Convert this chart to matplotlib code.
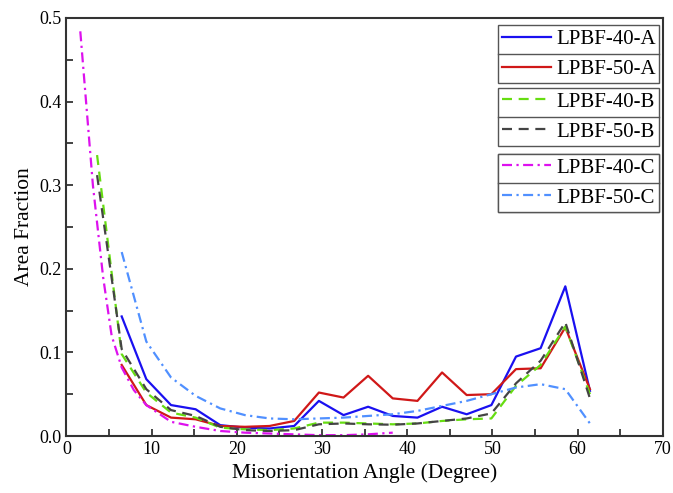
import matplotlib
matplotlib.use("Agg")
import matplotlib.pyplot as plt
from matplotlib.lines import Line2D

plt.rcParams['font.family'] = ['Liberation Serif', 'DejaVu Serif']

# bin centres (degrees)
x_a = [6.48, 9.37, 12.27, 15.16, 18.05, 20.95, 23.84, 26.73, 29.63, 32.52,
       35.41, 38.30, 41.20, 44.09, 46.98, 49.88, 52.77, 55.66, 58.56, 61.45]
x_b = [3.59] + x_a
x_c40 = [1.62, 3.1, 4.3, 5.3, 6.48, 7.9, 9.37, 12.27, 15.16, 18.05, 20.95,
         23.84, 26.73, 29.63, 32.52, 35.41, 38.30]

lpbf40_a = [0.143, 0.068, 0.037, 0.032, 0.013, 0.010, 0.009, 0.012, 0.042, 0.025,
            0.035, 0.024, 0.022, 0.035, 0.026, 0.037, 0.095, 0.105, 0.179, 0.054]
lpbf50_a = [0.085, 0.037, 0.022, 0.020, 0.012, 0.011, 0.012, 0.018, 0.052, 0.046,
            0.072, 0.045, 0.042, 0.076, 0.049, 0.050, 0.080, 0.081, 0.130, 0.056]
lpbf40_b = [0.336, 0.098, 0.052, 0.028, 0.022, 0.010, 0.008, 0.007, 0.009, 0.016, 0.016,
            0.015, 0.014, 0.015, 0.018, 0.020, 0.021, 0.060, 0.085, 0.131, 0.050]
lpbf50_b = [0.312, 0.104, 0.056, 0.031, 0.024, 0.011, 0.007, 0.006, 0.007, 0.014, 0.015,
            0.014, 0.0135, 0.015, 0.018, 0.021, 0.027, 0.063, 0.090, 0.136, 0.045]
lpbf40_c = [0.484, 0.30, 0.19, 0.12, 0.082, 0.055, 0.037, 0.017, 0.011, 0.006, 0.004,
            0.003, 0.002, 0.001, 0.001, 0.002, 0.004]
lpbf50_c = [0.220, 0.113, 0.070, 0.048, 0.033, 0.025, 0.021, 0.020, 0.021, 0.022,
            0.024, 0.026, 0.030, 0.036, 0.042, 0.050, 0.058, 0.062, 0.056, 0.015]

fig = plt.figure(figsize=(6.73, 4.93), dpi=100)
ax = fig.add_axes([0.0988, 0.1156, 0.886, 0.848])

lw = 1.6
l1, = ax.plot(x_a, lpbf40_a, color='#1a10f0', lw=lw, label='LPBF-40-A')
l2, = ax.plot(x_a, lpbf50_a, color='#d01818', lw=lw, label='LPBF-50-A')
l3, = ax.plot(x_b, lpbf40_b, color='#66dd11', lw=lw, dashes=(4.5, 3), label='LPBF-40-B')
l4, = ax.plot(x_b, lpbf50_b, color='#444444', lw=lw, dashes=(4.5, 3), label='LPBF-50-B')
l5, = ax.plot(x_c40, lpbf40_c, color='#dd11ee', lw=lw, dashes=(4.5, 2, 1, 2), label='LPBF-40-C')
l6, = ax.plot(x_a, lpbf50_c, color='#5090ff', lw=lw, dashes=(4.5, 2, 1, 2), label='LPBF-50-C')

ax.set_xlim(0, 70)
ax.set_ylim(0, 0.5)
ax.set_xticks(range(0, 71, 10))
ax.set_xticks(range(5, 70, 10), minor=True)
ax.set_yticks([0, 0.1, 0.2, 0.3, 0.4, 0.5])
ax.set_yticks([0.05, 0.15, 0.25, 0.35, 0.45], minor=True)
ax.set_yticklabels(['0.0', '0.1', '0.2', '0.3', '0.4', '0.5'])
ax.tick_params(which='both', direction='in', length=5, width=1.2, labelsize=13,
               top=False, right=False, color='#222222')
for s in ax.spines.values():
    s.set_linewidth(1.5)
    s.set_color('#333333')

ax.set_xlabel('Misorientation Angle (Degree)', fontsize=15.5)
ax.set_ylabel('Area Fraction', fontsize=15.5)

groups = [([l1, l2], 0.845, 0.138), ([l3, l4], 0.689, 0.144), ([l5, l6], 0.533, 0.142)]
legs = []
for handles, y0, h in groups:
    leg = ax.legend(handles=handles, bbox_to_anchor=(0.723, y0, 0.27, h),
                    loc='upper left', mode='expand', fontsize=15, frameon=True,
                    fancybox=False, edgecolor='#555555', framealpha=1,
                    borderpad=0.2, labelspacing=0.5, handlelength=2.35,
                    handletextpad=0.25, borderaxespad=0)
    leg.get_frame().set_linewidth(1.0)
    ax.add_artist(leg)
    legs.append(leg)

fig.canvas.draw()
inv = ax.transAxes.inverted()
for leg in legs:
    bb = leg.get_frame().get_window_extent()
    (x0, y0), (x1, y1) = inv.transform([[bb.x0, bb.y0], [bb.x1, bb.y1]])
    ym = (y0 + y1) / 2
    ax.add_line(Line2D([x0, x1], [ym, ym], transform=ax.transAxes,
                       color='#555555', lw=1.0, zorder=10))

fig.savefig('out.png', dpi=100)
